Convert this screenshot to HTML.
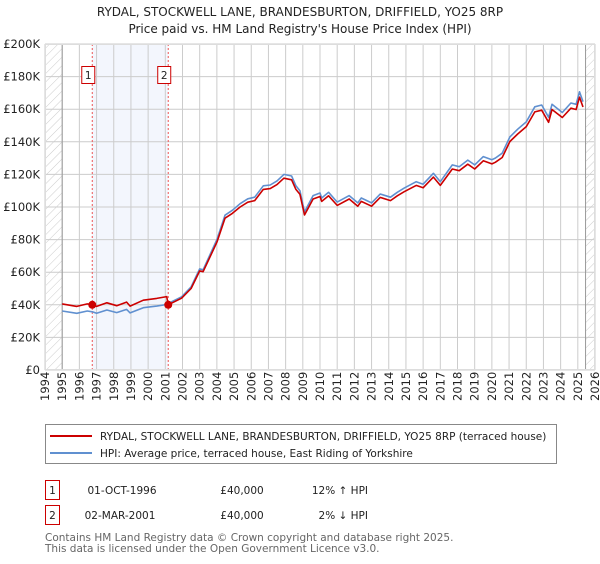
<!DOCTYPE html>
<html><head><meta charset="utf-8"><style>
body{margin:0;background:#fff;width:600px;height:560px;overflow:hidden;font-family:"DejaVu Sans","Liberation Sans",sans-serif;}
svg text{font-family:"DejaVu Sans","Liberation Sans",sans-serif;}
</style></head><body>
<svg id="c" width="600" height="560" xmlns="http://www.w3.org/2000/svg">
<defs><pattern id="hatch" width="6" height="6" patternUnits="userSpaceOnUse" patternTransform="rotate(45)"><line x1="0" y1="0" x2="0" y2="6" stroke="#ccc" stroke-width="1"/></pattern></defs>
<text x="300" y="16" text-anchor="middle" font-size="12" fill="#222">RYDAL, STOCKWELL LANE, BRANDESBURTON, DRIFFIELD, YO25 8RP</text>
<text x="300" y="33" text-anchor="middle" font-size="12" fill="#222">Price paid vs. HM Land Registry's House Price Index (HPI)</text>
<g id="plot"></g>
<g>
<rect x="45.5" y="424.5" width="511" height="39" fill="#fff" stroke="#888"/>
<line x1="50" y1="436" x2="92" y2="436" stroke="#cc0000" stroke-width="2"/>
<text x="100" y="440" font-size="10.5" fill="#222">RYDAL, STOCKWELL LANE, BRANDESBURTON, DRIFFIELD, YO25 8RP (terraced house)</text>
<line x1="50" y1="453" x2="92" y2="453" stroke="#6090d0" stroke-width="2"/>
<text x="100" y="457" font-size="10.5" fill="#222">HPI: Average price, terraced house, East Riding of Yorkshire</text>
</g>
<g>
<rect x="45.5" y="480.5" width="14" height="19" fill="#fff" stroke="#cc0000"/>
<text x="52.5" y="494" text-anchor="middle" font-size="10.5" fill="#222">1</text>
<text x="122" y="494" text-anchor="middle" font-size="10.5" fill="#222">01-OCT-1996</text>
<text x="242" y="494" text-anchor="middle" font-size="10.5" fill="#222">£40,000</text>
<text x="368" y="494" text-anchor="end" font-size="10.5" fill="#222">12% ↑ HPI</text>
<rect x="45.5" y="505.5" width="14" height="19" fill="#fff" stroke="#cc0000"/>
<text x="52.5" y="519" text-anchor="middle" font-size="10.5" fill="#222">2</text>
<text x="120" y="519" text-anchor="middle" font-size="10.5" fill="#222">02-MAR-2001</text>
<text x="242" y="519" text-anchor="middle" font-size="10.5" fill="#222">£40,000</text>
<text x="368" y="519" text-anchor="end" font-size="10.5" fill="#222">2% ↓ HPI</text>
</g>
<text x="45" y="541" font-size="10.5" fill="#666">Contains HM Land Registry data © Crown copyright and database right 2025.</text>
<text x="45" y="552" font-size="10.5" fill="#666">This data is licensed under the Open Government Licence v3.0.</text>
</svg>
<script>
const hpiYears=[1995,1995.85,1996.46,1996.75,1997.0,1997.6,1998.17,1998.75,1998.95,1999.72,2000.5,2001.08,2001.17,2001.95,2002.5,2003.0,2003.2,2004.0,2004.47,2004.9,2005.35,2005.8,2006.2,2006.7,2007.1,2007.5,2007.9,2008.35,2008.6,2008.83,2009.1,2009.6,2010.0,2010.1,2010.5,2011.0,2011.7,2012.2,2012.4,2013.0,2013.5,2014.1,2014.5,2014.9,2015.6,2016.0,2016.6,2017.0,2017.7,2018.1,2018.6,2019.0,2019.5,2020.0,2020.2,2020.6,2021.05,2021.5,2022.0,2022.5,2022.9,2023.3,2023.5,2024.1,2024.6,2024.9,2025.1,2025.3];
const hpiValues=[36.2,34.8,36.2,35.7,34.8,36.8,35.2,37.2,35.0,38.2,39.2,40.2,40.8,44.9,51,62,61.5,80,95,98,102,105,106,113,113.5,116,120,119,113,110,97,107,108.6,105.5,109,103,107,102.5,105.5,102.5,108,106,109,111.6,115.5,114,120.7,115.5,125.8,124.7,128.8,125.8,130.9,129,130,133,143,147.7,152.3,161.5,162.6,155,163,158,163.8,163,170.7,164.6];
const saleYears=[1996.75,2001.17];
const salePrices=[40,40];
const yTicks=[0,20,40,60,80,100,120,140,160,180,200];
const xTicks=[1994,1995,1996,1997,1998,1999,2000,2001,2002,2003,2004,2005,2006,2007,2008,2009,2010,2011,2012,2013,2014,2015,2016,2017,2018,2019,2020,2021,2022,2023,2024,2025,2026];

const L=45,R=595,T=44,B=370;
const xs=y=>L+(y-1994)/(2026-1994)*(R-L);
const ys=v=>B-v/200*(B-T);
const NS='http://www.w3.org/2000/svg';
const g=document.getElementById('plot');
function mk(tag,attrs,parent){const e=document.createElementNS(NS,tag);for(const k in attrs)e.setAttribute(k,attrs[k]);(parent||g).appendChild(e);return e;}

let e;
e=mk('rect',{x:L,y:T,width:R-L,height:B-T,fill:'#fff'});


e=mk('rect',{x:xs(saleYears[0]),y:T,width:xs(saleYears[1])-xs(saleYears[0]),height:B-T,fill:'#f3f6fd'});


e=mk('rect',{x:L,y:T,width:xs(1995)-L,height:B-T,fill:'url(#hatch)'});


e=mk('rect',{x:xs(2025.45),y:T,width:R-xs(2025.45),height:B-T,fill:'url(#hatch)'});


xTicks.forEach(t=>{
  e=mk('line',{x1:xs(t),x2:xs(t),y1:T,y2:B,stroke:'#ccc','stroke-width':1});
  
  
  e=mk('text',{transform:`translate(${xs(t)+4},${B+31}) rotate(-90)`,'font-size':11.5,fill:'#222'});
  e.textContent=t;
  
  
});
yTicks.forEach(t=>{
  e=mk('line',{x1:L,x2:R,y1:ys(t),y2:ys(t),stroke:'#ccc','stroke-width':1});
  
  
  e=mk('text',{x:L-5,y:ys(t)+4,'text-anchor':'end','font-size':11.5,fill:'#222'});
  e.textContent=t===0?'£0':'£'+t+'K';
  
  
});
[xs(1995),xs(2025.45)].forEach(x=>{
  e=mk('line',{x1:x,x2:x,y1:T,y2:B,stroke:'#999','stroke-width':1});
  
  
});
saleYears.forEach((s,i)=>{
  e=mk('line',{x1:xs(s),x2:xs(s),y1:T,y2:B,stroke:'#ee5555','stroke-width':1,'stroke-dasharray':'2,2'});
  
  
  e=mk('rect',{x:xs(s)-10.5,y:66.5,width:13,height:17,fill:'#fff',stroke:'#cc0000'});
  
  
  e=mk('text',{x:xs(s)-4,y:79,'text-anchor':'middle','font-size':10.5,fill:'#222'});
  e.textContent=i+1;
  
  
});
function hpiAt(y){for(let i=0;i<hpiYears.length-1;i++){if(y>=hpiYears[i]&&y<=hpiYears[i+1]){const f=(y-hpiYears[i])/(hpiYears[i+1]-hpiYears[i]);return hpiValues[i]+f*(hpiValues[i+1]-hpiValues[i]);}}return hpiValues[hpiValues.length-1];}
const blue=hpiYears.map((y,i)=>xs(y).toFixed(1)+','+ys(hpiValues[i]).toFixed(1)).join(' ');
const red=hpiYears.map((y,i)=>{const k=y<saleYears[1]?0:1;const v=hpiValues[i]*salePrices[k]/hpiAt(saleYears[k]);return xs(y).toFixed(1)+','+ys(v).toFixed(1);}).join(' ');
e=mk('polyline',{points:blue,fill:'none',stroke:'#6090d0','stroke-width':1.6,'stroke-linejoin':'round'});


e=mk('polyline',{points:red,fill:'none',stroke:'#cc0000','stroke-width':1.6,'stroke-linejoin':'round'});


saleYears.forEach((s,i)=>{
  e=mk('circle',{cx:xs(s),cy:ys(salePrices[i]),r:4,fill:'#cc0000'});
  
  
});
e=mk('rect',{x:L+0.5,y:T+0.5,width:R-L-1,height:B-T-1,fill:'none',stroke:'#ddd'});


</script>
</body></html>
